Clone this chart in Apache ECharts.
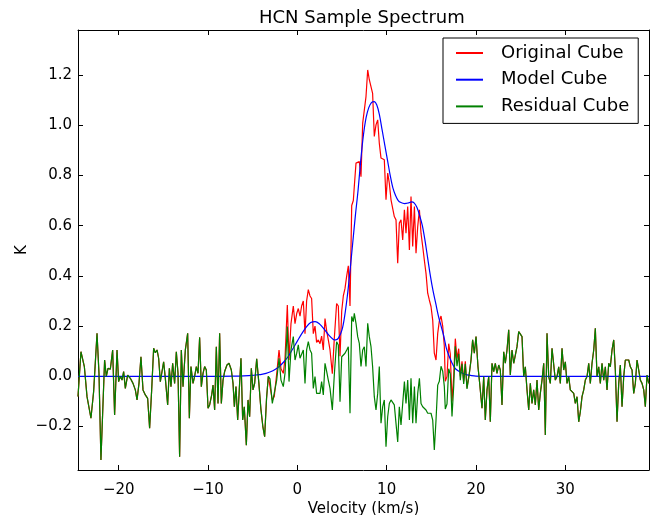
<!DOCTYPE html>
<html>
<head>
<meta charset="utf-8">
<script src="https://cdn.jsdelivr.net/npm/echarts@6/dist/echarts.min.js"></script>
<style>
html,body{margin:0;padding:0;background:#fff;}
#chart{width:658px;height:515px;}
</style>
</head>
<body>
<div id="chart"></div>
<script>
// ---- Data (velocity km/s, brightness K) ----
const seriesNames = ["Original Cube", "Model Cube", "Residual Cube"];
const xTicks = [-20, -10, 0, 10, 20, 30];
const yTicks = [-0.2, 0.0, 0.2, 0.4, 0.6, 0.8, 1.0, 1.2];

// Baseline channels left of the line (model = 0, original = residual)
const baseLeft = [[-24.56,-0.08],[-24.23,0.098],[-23.85,0.039],[-23.55,-0.081],[-23.37,-0.088],[-23.11,-0.167],[-22.81,-0.061],[-22.43,0.171],[-22.21,0.012],[-21.99,-0.333],[-21.80,-0.147],[-21.58,0.065],[-21.39,0.0],[-21.20,0.032],[-20.94,0.028],[-20.68,0.105],[-20.46,-0.154],[-20.19,0.105],[-20.01,-0.021],[-19.82,0.0],[-19.63,-0.015],[-19.45,0.019],[-19.26,-0.048],[-19.00,0.005],[-18.70,-0.008],[-18.40,-0.028],[-18.14,-0.054],[-17.95,-0.094],[-17.73,-0.028],[-17.51,0.078],[-17.28,-0.054],[-17.02,-0.074],[-16.76,-0.088],[-16.54,-0.207],[-16.31,-0.054],[-16.09,0.112],[-15.90,0.094],[-15.71,0.105],[-15.53,0.072],[-15.34,-0.021],[-15.15,-0.015],[-14.97,0.058],[-14.78,-0.008],[-14.52,-0.114],[-14.33,0.032],[-14.15,-0.041],[-13.96,0.052],[-13.74,-0.028],[-13.55,0.098],[-13.36,0.012],[-13.18,-0.32],[-12.99,0.105],[-12.80,-0.041],[-12.54,0.105],[-12.28,0.171],[-12.09,-0.167],[-11.91,0.039],[-11.68,-0.028],[-11.50,0.0],[-11.31,0.039],[-11.12,0.012],[-10.94,0.155],[-10.75,-0.041],[-10.56,0.012],[-10.38,0.039],[-10.19,0.025],[-10.00,-0.127],[-9.82,-0.114],[-9.59,-0.074],[-9.44,-0.035],[-9.26,-0.134],[-9.07,0.118],[-8.88,-0.108],[-8.70,0.171],[-8.51,-0.108],[-8.32,-0.015],[-8.14,0.019],[-7.88,0.045],[-7.65,0.052],[-7.39,0.025],[-7.20,-0.028],[-7.05,-0.121],[-6.87,-0.041],[-6.68,-0.174],[-6.50,-0.054],[-6.31,0.072],[-6.12,-0.174],[-5.94,-0.121],[-5.71,-0.274],[-5.52,-0.094],[-5.34,-0.161],[-5.15,0.032],[-4.96,-0.054],[-4.78,-0.028],[-4.55,0.07],[-4.30,-0.03],[-4.08,-0.13],[-3.86,-0.2],[-3.66,-0.24],[-3.45,-0.09],[-3.25,0.0]];

// Line region: original (red) channels
const origCore = [[-3.06,0.005],[-2.80,-0.095],[-2.58,-0.08],[-2.31,0.01],[-2.05,0.105],[-1.83,0.03],[-1.57,0.012],[-1.38,0.07],[-1.12,0.284],[-0.93,0.065],[-0.71,0.21],[-0.45,0.28],[-0.26,0.21],[-0.07,0.25],[0.11,0.27],[0.30,0.24],[0.48,0.28],[0.67,0.30],[0.86,0.17],[1.04,0.30],[1.23,0.345],[1.42,0.32],[1.60,0.31],[1.79,0.17],[1.98,0.20],[2.16,0.135],[2.35,0.145],[2.54,0.13],[2.72,0.16],[2.91,0.105],[3.10,0.23],[3.29,0.18],[3.47,0.145],[3.66,0.105],[3.92,0.01],[4.14,0.15],[4.40,0.29],[4.59,0.28],[4.78,0.08],[4.97,0.26],[5.15,0.32],[5.34,0.35],[5.53,0.40],[5.71,0.44],[5.90,0.28],[6.09,0.68],[6.27,0.70],[6.38,0.756],[6.57,0.849],[6.76,0.849],[6.94,0.855],[7.13,0.795],[7.32,1.008],[7.50,1.001],[7.69,1.114],[7.88,1.22],[8.06,1.181],[8.25,1.181],[8.43,1.127],[8.62,0.955],[8.81,1.001],[9.00,1.021],[9.18,0.928],[9.37,0.869],[9.56,0.875],[9.74,0.862],[9.93,0.703],[10.12,0.809],[10.30,0.769],[10.49,0.703],[10.68,0.696],[10.86,0.636],[11.05,0.623],[11.24,0.45],[11.42,0.61],[11.61,0.623],[11.80,0.543],[11.99,0.663],[12.17,0.57],[12.36,0.676],[12.55,0.503],[12.73,0.716],[12.92,0.517],[13.11,0.676],[13.29,0.49],[13.48,0.596],[13.67,0.663],[13.85,0.57],[14.04,0.517],[14.22,0.463],[14.41,0.41],[14.60,0.331],[14.78,0.304],[14.97,0.278],[15.16,0.224],[15.34,0.092],[15.53,0.065],[15.72,0.171],[15.90,0.22],[16.09,0.24],[16.28,0.20],[16.46,0.12],[16.57,-0.02],[16.76,0.0],[16.95,0.13],[17.13,0.09],[17.32,-0.10],[17.51,0.0],[17.69,0.15],[17.88,0.07],[18.07,0.11],[18.25,0.0],[18.44,0.06],[18.63,-0.02],[18.81,0.06],[19.00,-0.045]];

// Line region: residual (green) channels
const resCore = [[-3.06,-0.01],[-2.80,-0.108],[-2.58,-0.101],[-2.31,-0.015],[-2.05,0.072],[-1.83,-0.015],[-1.57,-0.041],[-1.38,0.012],[-1.12,0.198],[-0.93,-0.021],[-0.71,0.105],[-0.45,0.158],[-0.26,0.065],[-0.07,0.092],[0.11,0.125],[0.30,0.072],[0.48,0.078],[0.67,0.105],[0.86,-0.028],[1.04,0.105],[1.23,0.138],[1.42,0.105],[1.60,0.092],[1.79,-0.048],[1.98,-0.001],[2.16,-0.068],[2.35,-0.061],[2.54,-0.068],[2.72,-0.021],[2.91,-0.074],[3.10,0.052],[3.29,0.019],[3.47,-0.015],[3.66,-0.048],[3.92,-0.134],[4.14,0.005],[4.40,0.138],[4.59,0.125],[4.78,-0.101],[4.97,0.078],[5.15,0.078],[5.34,0.092],[5.53,0.105],[5.71,0.118],[5.90,-0.147],[6.09,0.238],[6.27,0.218],[6.38,0.251],[6.57,0.211],[6.76,0.158],[6.94,0.131],[7.13,0.039],[7.32,0.105],[7.50,0.118],[7.69,0.039],[7.88,0.211],[8.06,0.158],[8.25,0.118],[8.43,0.039],[8.62,-0.081],[8.81,-0.134],[9.00,-0.068],[9.18,0.039],[9.37,-0.187],[9.56,-0.121],[9.74,-0.094],[9.93,-0.28],[10.12,-0.161],[10.30,-0.108],[10.49,-0.094],[10.68,-0.094],[10.86,-0.114],[11.05,-0.108],[11.24,-0.261],[11.42,-0.121],[11.61,-0.194],[11.80,-0.108],[11.99,-0.021],[12.17,-0.108],[12.36,-0.015],[12.55,-0.174],[12.73,-0.008],[12.92,-0.187],[13.11,-0.041],[13.29,-0.187],[13.48,-0.068],[13.67,-0.008],[13.85,-0.108],[14.04,-0.121],[14.22,-0.121],[14.41,-0.134],[14.60,-0.147],[14.78,-0.141],[14.97,-0.147],[15.16,-0.174],[15.34,-0.293],[15.53,-0.174],[15.72,-0.035],[15.90,-0.02],[16.09,0.04],[16.28,0.02],[16.46,-0.04],[16.57,-0.13],[16.76,-0.11],[16.95,0.03],[17.13,0.01],[17.32,-0.16],[17.51,-0.04],[17.69,0.12],[17.88,0.04],[18.07,0.09],[18.25,-0.015],[18.44,0.05],[18.63,-0.03],[18.81,0.05],[19.00,-0.05]];

// Baseline channels right of the line (model = 0, original = residual)
const baseRight = [[19.26,0.012],[19.45,0.065],[19.63,0.145],[19.82,0.092],[20.01,0.158],[20.23,0.038],[20.42,-0.028],[20.68,-0.127],[20.87,-0.001],[21.05,-0.174],[21.24,-0.054],[21.43,-0.001],[21.61,-0.181],[21.80,0.052],[21.99,0.019],[22.17,0.052],[22.36,0.012],[22.55,0.045],[22.73,0.025],[22.92,-0.114],[23.11,0.098],[23.29,0.052],[23.48,0.105],[23.67,0.185],[23.85,0.005],[24.04,0.105],[24.23,0.052],[24.41,0.052],[24.60,0.118],[24.79,0.178],[24.97,0.178],[25.16,0.158],[25.35,-0.001],[25.53,0.038],[25.72,-0.054],[25.91,-0.134],[26.09,-0.028],[26.28,-0.108],[26.47,-0.054],[26.65,-0.114],[26.84,-0.015],[27.03,-0.134],[27.21,-0.068],[27.40,-0.015],[27.59,0.052],[27.77,-0.234],[27.96,0.171],[28.15,-0.001],[28.33,-0.028],[28.52,0.112],[28.71,0.105],[28.89,-0.015],[29.08,-0.001],[29.27,0.038],[29.45,-0.028],[29.64,0.112],[29.83,0.025],[30.01,0.058],[30.20,-0.028],[30.39,-0.001],[30.57,-0.054],[30.76,-0.061],[30.95,-0.068],[31.13,-0.108],[31.32,-0.081],[31.51,-0.181],[31.69,-0.141],[31.88,-0.081],[32.07,-0.054],[32.25,-0.015],[32.44,-0.001],[32.63,0.052],[32.81,-0.028],[33.00,0.052],[33.19,0.105],[33.37,0.191],[33.56,-0.001],[33.75,0.038],[33.93,-0.028],[34.12,0.052],[34.31,-0.015],[34.49,0.038],[34.68,-0.054],[34.87,0.052],[35.05,0.038],[35.24,0.105],[35.43,0.145],[35.61,0.025],[35.80,-0.181],[35.99,-0.028],[36.17,0.045],[36.36,-0.121],[36.55,-0.001],[36.73,0.065],[36.92,0.072],[37.11,0.065],[37.29,0.038],[37.48,0.025],[37.67,-0.068],[37.85,-0.028],[38.04,0.065],[38.23,0.025],[38.41,-0.015],[38.60,-0.028],[38.79,-0.054],[38.97,-0.121],[39.16,0.005],[39.35,-0.028]];

// Model (blue) curve samples
const modelCurve = [[-24.56,0],[-10,0],[-7,0.001],[-6,0.002],[-5,0.004],[-4.5,0.006],[-4,0.008],[-3.5,0.012],[-3,0.018],[-2.5,0.027],[-2,0.04],[-1.5,0.058],[-1,0.08],[-0.5,0.11],[0,0.14],[0.5,0.17],[1,0.196],[1.5,0.214],[2,0.218],[2.5,0.208],[3,0.188],[3.5,0.165],[4,0.148],[4.3,0.145],[4.6,0.152],[5,0.185],[5.3,0.24],[5.6,0.32],[5.9,0.42],[6.2,0.53],[6.5,0.64],[6.8,0.74],[7.1,0.86],[7.4,0.96],[7.7,1.03],[8.0,1.07],[8.3,1.09],[8.6,1.094],[8.9,1.08],[9.2,1.04],[9.5,0.98],[9.8,0.92],[10.1,0.86],[10.4,0.80],[10.7,0.75],[11.0,0.72],[11.3,0.70],[11.6,0.692],[12.0,0.688],[12.4,0.69],[12.8,0.695],[13.1,0.69],[13.4,0.672],[13.7,0.64],[14.0,0.60],[14.3,0.54],[14.6,0.47],[14.9,0.40],[15.2,0.34],[15.5,0.29],[15.8,0.24],[16.1,0.20],[16.4,0.16],[16.7,0.11],[17.0,0.08],[17.3,0.055],[17.6,0.035],[18.0,0.022],[18.5,0.012],[19.0,0.006],[19.5,0.003],[20,0.001],[21,0],[39.38,0]];

const xMin = -24.56, xMax = 39.38;
const yMin = -0.373, yMax = 1.379;

// ---- Assemble series from the arrays ----
const originalData = baseLeft.concat(origCore, baseRight);
const residualData = baseLeft.concat(resCore, baseRight);

const FONT = "DejaVu Sans";
const minus = s => s.replace('-', '\u2212');
const isTick = (v, list) => list.some(t => Math.abs(t - v) < 1e-6);

const chart = echarts.init(document.getElementById('chart'), null, {renderer: 'canvas'});

const axisCommon = {
  axisLine: {show: true, onZero: false, lineStyle: {color: '#000', width: 1}},
  axisTick: {show: true, inside: true, length: 5, lineStyle: {color: '#000', width: 1}},
  splitLine: {show: false}
};

chart.setOption({
  animation: false,
  backgroundColor: '#fff',
  title: {
    text: 'HCN Sample Spectrum',
    left: 259, top: 9, padding: 0,
    textStyle: {fontFamily: FONT, fontSize: 18, fontWeight: 'normal', color: '#000'}
  },
  legend: {
    data: seriesNames,
    orient: 'vertical',
    left: 443, top: 38,
    padding: [6, 9, 8, 12],
    itemGap: 8.7,
    itemWidth: 27, itemHeight: 14,
    itemStyle: {opacity: 0},
    backgroundColor: '#fff',
    borderColor: '#000', borderWidth: 1, borderRadius: 0,
    textStyle: {fontFamily: FONT, fontSize: 18, color: '#000', lineHeight: 18, padding: [0, 0, 0, 13]}
  },
  grid: {left: 78, right: 9, top: 30, bottom: 45, containLabel: false, outerBoundsMode: 'none'},
  xAxis: [
    Object.assign({
      type: 'value', min: xMin, max: xMax, splitNumber: 6, minInterval: 10, maxInterval: 10,
      position: 'bottom',
      name: 'Velocity (km/s)', nameLocation: 'middle', nameGap: 32, nameMoveOverlap: false,
      nameTextStyle: {fontFamily: FONT, fontSize: 15, color: '#000'},
      axisLabel: {
        fontFamily: FONT, fontSize: 15, color: '#000', margin: 13,
        showMinLabel: true, showMaxLabel: true,
        formatter: v => isTick(v, xTicks) ? minus(String(Math.round(v))) : ''
      }
    }, axisCommon),
    Object.assign({
      type: 'value', min: xMin, max: xMax, splitNumber: 6, minInterval: 10, maxInterval: 10,
      position: 'top', axisLabel: {show: false}
    }, axisCommon)
  ],
  yAxis: [
    Object.assign({
      type: 'value', min: yMin, max: yMax, splitNumber: 8, minInterval: 0.2, maxInterval: 0.2,
      position: 'left',
      name: 'K', nameLocation: 'middle', nameGap: 48, nameRotate: 90, nameMoveOverlap: false,
      nameTextStyle: {fontFamily: FONT, fontSize: 15, color: '#000'},
      axisLabel: {
        fontFamily: FONT, fontSize: 15, color: '#000', margin: 6,
        formatter: v => isTick(v, yTicks) ? minus(v.toFixed(1)) : ''
      }
    }, axisCommon),
    Object.assign({
      type: 'value', min: yMin, max: yMax, splitNumber: 8, minInterval: 0.2, maxInterval: 0.2,
      position: 'right', axisLabel: {show: false}
    }, axisCommon)
  ],
  series: [
    {
      name: seriesNames[0], type: 'line', data: originalData,
      xAxisIndex: 0, yAxisIndex: 0,
      symbol: 'none', showSymbol: false, smooth: false,
      lineStyle: {color: '#ff0000', width: 1.2}, itemStyle: {color: '#ff0000'},
      emphasis: {disabled: true}
    },
    {
      name: seriesNames[1], type: 'line', data: modelCurve,
      xAxisIndex: 0, yAxisIndex: 0,
      symbol: 'none', showSymbol: false, smooth: 0.35,
      lineStyle: {color: '#0000ff', width: 1.2}, itemStyle: {color: '#0000ff'},
      emphasis: {disabled: true}
    },
    {
      name: seriesNames[2], type: 'line', data: residualData,
      xAxisIndex: 0, yAxisIndex: 0,
      symbol: 'none', showSymbol: false, smooth: false,
      lineStyle: {color: '#008000', width: 1.2}, itemStyle: {color: '#008000'},
      emphasis: {disabled: true}
    }
  ]
});
</script>
</body>
</html>
